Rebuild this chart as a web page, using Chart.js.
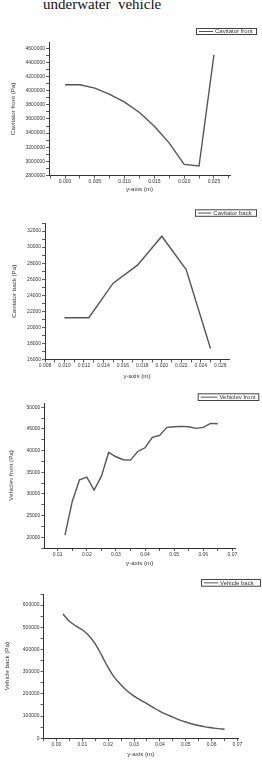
<!DOCTYPE html>
<html><head><meta charset="utf-8">
<script src="https://cdn.jsdelivr.net/npm/chart.js@4.4.1/dist/chart.umd.min.js"></script>
<style>
html,body{margin:0;padding:0;background:#fff;width:262px;height:760px;overflow:hidden;}
#title{position:absolute;left:43px;top:-3.6px;line-height:16px;font-family:"Liberation Serif","Times New Roman",serif;font-size:15px;color:#111;white-space:pre;}
canvas{position:absolute;left:0;}
</style></head><body>
<div id="title">underwater  vehicle</div>
<canvas id="c1"></canvas>
<canvas id="c2"></canvas>
<canvas id="c3"></canvas>
<canvas id="c4"></canvas>
<script>
// ---------- DATA ----------
// Chart 1: Cavitator front
const cavFrontX = [0.000, 0.0025, 0.005, 0.0075, 0.010, 0.0125, 0.015, 0.0175, 0.020, 0.0225, 0.025];
const cavFrontP = [4085000, 4085000, 4038000, 3948000, 3838000, 3692000, 3498000, 3258000, 2958000, 2934000, 4507000];
const cavFrontXTicks = [0.000, 0.005, 0.010, 0.015, 0.020, 0.025];
const cavFrontXLabels = ['0.000', '0.005', '0.010', '0.015', '0.020', '0.025'];
const cavFrontYTicks = [2800000, 3000000, 3200000, 3400000, 3600000, 3800000, 4000000, 4200000, 4400000, 4600000];
const cavFrontYLabels = ['2800000', '3000000', '3200000', '3400000', '3600000', '3800000', '4000000', '4200000', '4400000', '4600000'];

// Chart 2: Cavitator back
const cavBackX = [0.010, 0.0125, 0.015, 0.0175, 0.020, 0.0225, 0.025];
const cavBackP = [21200, 21200, 25500, 27750, 31350, 27200, 17370];
const cavBackXTicks = [0.008, 0.010, 0.012, 0.014, 0.016, 0.018, 0.020, 0.022, 0.024, 0.026];
const cavBackXLabels = ['0.008', '0.010', '0.012', '0.014', '0.016', '0.018', '0.020', '0.022', '0.024', '0.026'];
const cavBackYTicks = [16000, 18000, 20000, 22000, 24000, 26000, 28000, 30000, 32000];
const cavBackYLabels = ['16000', '18000', '20000', '22000', '24000', '26000', '28000', '30000', '32000'];

// Chart 3: Vehiclev front
const vehFrontX = [0.0125, 0.015, 0.0175, 0.020, 0.0225, 0.025, 0.0275, 0.030, 0.0325, 0.035, 0.0375,
                   0.040, 0.0425, 0.045, 0.0475, 0.050, 0.0525, 0.055, 0.0575, 0.060, 0.0625, 0.065];
const vehFrontP = [20460, 28250, 33260, 33880, 30870, 34030, 39580, 38580, 37890, 37800, 39800,
                   40660, 43050, 43520, 45370, 45520, 45600, 45520, 45130, 45370, 46290, 46210];
const vehFrontXTicks = [0.01, 0.02, 0.03, 0.04, 0.05, 0.06, 0.07];
const vehFrontXLabels = ['0.01', '0.02', '0.03', '0.04', '0.05', '0.06', '0.07'];
const vehFrontYTicks = [20000, 25000, 30000, 35000, 40000, 45000, 50000];
const vehFrontYLabels = ['20000', '25000', '30000', '35000', '40000', '45000', '50000'];

// Chart 4: Vehicle back
const vehBackX = [0.0025, 0.005, 0.0075, 0.010, 0.0125, 0.015, 0.0175, 0.020, 0.0225, 0.025, 0.0275, 0.030, 0.0325,
                  0.035, 0.0375, 0.040, 0.0425, 0.045, 0.0475, 0.050, 0.0525, 0.055, 0.0575, 0.060, 0.0625, 0.065];
const vehBackP = [560000, 527000, 506000, 489000, 463000, 425000, 373000, 318000, 273000, 240000, 212000, 190000, 172000,
                  156000, 138000, 121000, 107000, 95000, 83000, 73000, 64000, 57000, 51000, 47000, 43000, 40500];
const vehBackXTicks = [0.00, 0.01, 0.02, 0.03, 0.04, 0.05, 0.06, 0.07];
const vehBackXLabels = ['0.00', '0.01', '0.02', '0.03', '0.04', '0.05', '0.06', '0.07'];
const vehBackYTicks = [0, 100000, 200000, 300000, 400000, 500000, 600000];
const vehBackYLabels = ['0', '100000', '200000', '300000', '400000', '500000', '600000'];

// ---------- STYLE ----------
const F = '"Liberation Sans", Arial, sans-serif';
const TXT = '#333';
const AX = '#333';
const LINE = '#555';

// draws the framed legend box (Origin style)
const boxLegend = {
  id: 'boxLegend',
  afterDraw(chart, args, o) {
    const ctx = chart.ctx;
    const ds = chart.data.datasets[0];
    ctx.save();
    ctx.fillStyle = '#fff';
    ctx.fillRect(o.x, o.y, o.w, o.h);
    ctx.strokeStyle = '#444';
    ctx.lineWidth = 1;
    ctx.strokeRect(o.x + 0.5, o.y + 0.5, o.w - 1, o.h - 1);
    ctx.strokeStyle = ds.borderColor;
    ctx.lineWidth = 1;
    ctx.beginPath();
    ctx.moveTo(o.x + 3, o.y + o.h / 2);
    ctx.lineTo(o.x + 3 + o.len, o.y + o.h / 2);
    ctx.stroke();
    ctx.fillStyle = TXT;
    ctx.font = '6px ' + F;
    ctx.textBaseline = 'middle';
    ctx.fillText(ds.label, o.x + 5 + o.len, o.y + o.h / 2 + 0.3);
    ctx.restore();
  }
};

function withMinor(vals, min, max) {
  const out = [];
  const step = vals[1] - vals[0];
  const eps = (max - min) * 1e-6;
  for (let v = vals[0] - step / 2; v >= min - eps; v -= step / 2) out.unshift(v);
  vals.forEach((v, i) => {
    out.push(v);
    const m = v + step / 2;
    if (m <= max + eps) out.push(m);
  });
  return out.filter(v => v >= min - eps && v <= max + eps);
}

function axisCfg(axis, min, max, vals, labels, fit, title, labelPad) {
  const eps = Math.abs(max - min) * 1e-6;
  return {
    type: 'linear', position: axis === 'x' ? 'bottom' : 'left', min, max,
    border: { display: true, color: AX, width: 1 },
    grid: { display: true, drawOnChartArea: false, drawTicks: true, tickLength: 3, color: AX, tickColor: AX, lineWidth: 0.8 },
    ticks: {
      autoSkip: false, maxRotation: 0, minRotation: 0, padding: labelPad, color: TXT,
      font: { family: F, size: 5, lineHeight: 1.2 },
      callback: (v) => {
        const i = vals.findIndex(t => Math.abs(t - v) <= eps);
        return i >= 0 ? labels[i] : '';
      }
    },
    afterBuildTicks: (s) => { s.ticks = withMinor(vals, min, max).map(v => ({ value: v })); },
    afterFit: (s) => { if (axis === 'x') s.height = fit; else s.width = fit; },
    title: { display: true, text: title, color: TXT, font: { family: F, size: 6.2, lineHeight: 1.2 }, padding: 0 }
  };
}

function makeChart(c) {
  const cv = document.getElementById(c.id);
  cv.width = 262; cv.height = c.H; cv.style.top = c.T + 'px';
  const padLeft = c.titleX - 3.7;
  const pad = { left: padLeft, top: c.area.top - c.T, right: 262 - c.area.right, bottom: c.T + c.H - c.area.bottom - c.xH };
  new Chart(cv, {
    type: 'line',
    data: { datasets: [{
      label: c.label,
      data: c.xs.map((x, i) => ({ x: x, y: c.ys[i] })),
      borderColor: LINE, borderWidth: 1.4, pointRadius: 0, fill: false,
      tension: c.smooth ? 0.4 : 0, cubicInterpolationMode: c.smooth ? 'monotone' : 'default'
    }] },
    options: {
      responsive: false, animation: false, events: [],
      layout: { padding: pad },
      plugins: { legend: { display: false }, tooltip: { enabled: false }, boxLegend: c.legend },
      scales: {
        x: axisCfg('x', c.xMin, c.xMax, c.xT, c.xL, c.xH, 'y-axis (m)', 0.5),
        y: axisCfg('y', c.yMin, c.yMax, c.yT, c.yL, c.area.left - padLeft, c.yTitle, 1)
      }
    },
    plugins: [boxLegend]
  });
}

makeChart({ id: 'c1', T: 14, H: 180, area: { left: 49, right: 230, top: 42, bottom: 175.5 }, titleX: 13.3, xH: 18,
  xs: cavFrontX, ys: cavFrontP, label: 'Cavitator front', yTitle: 'Cavitator front (Pa)',
  xMin: -0.0027, xMax: 0.0277, xT: cavFrontXTicks, xL: cavFrontXLabels,
  yMin: 2800000, yMax: 4690000, yT: cavFrontYTicks, yL: cavFrontYLabels,
  legend: { x: 196, y: 14, w: 61, h: 7, len: 14 } });

makeChart({ id: 'c2', T: 194, H: 187, area: { left: 45, right: 229, top: 223, bottom: 359.5 }, titleX: 14, xH: 21,
  xs: cavBackX, ys: cavBackP, label: 'Cavitator back', yTitle: 'Cavitator back (Pa)',
  xMin: 0.008, xMax: 0.0269, xT: cavBackXTicks, xL: cavBackXLabels,
  yMin: 16000, yMax: 33000, yT: cavBackYTicks, yL: cavBackYLabels,
  legend: { x: 195, y: 15.3, w: 62, h: 7.5, len: 13.3 } });

makeChart({ id: 'c3', T: 381, H: 186, area: { left: 44.3, right: 235, top: 403, bottom: 548 }, titleX: 11.3, xH: 19,
  xs: vehFrontX, ys: vehFrontP, label: 'Vehiclev front', yTitle: 'Vehiclev front (Pa)',
  xMin: 0.0054, xMax: 0.0709, xT: vehFrontXTicks, xL: vehFrontXLabels,
  yMin: 17500, yMax: 51000, yT: vehFrontYTicks, yL: vehFrontYLabels,
  legend: { x: 197.7, y: 12.3, w: 61.6, h: 7.7, len: 16.7 } });

makeChart({ id: 'c4', T: 567, H: 193, area: { left: 43.5, right: 238, top: 594, bottom: 738.2 }, titleX: 7.5, xH: 19.4,
  xs: vehBackX, ys: vehBackP, label: 'Vehicle back', yTitle: 'Vehicle back (Pa)', smooth: true,
  xMin: -0.005, xMax: 0.0702, xT: vehBackXTicks, xL: vehBackXLabels,
  yMin: 0, yMax: 650000, yT: vehBackYTicks, yL: vehBackYLabels,
  legend: { x: 201, y: 12, w: 60, h: 7.7, len: 14 } });
</script>
</body></html>
